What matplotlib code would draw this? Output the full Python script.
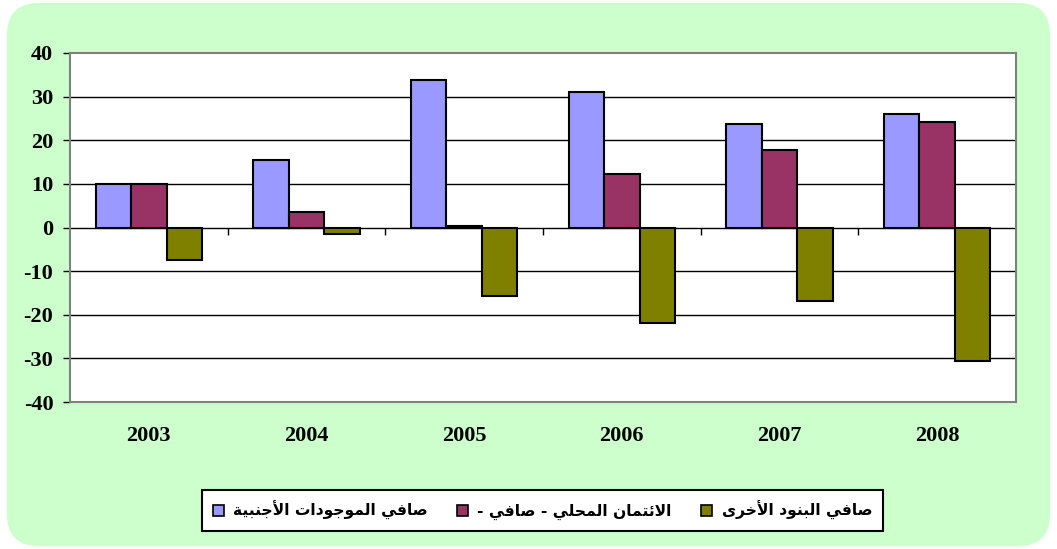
import matplotlib
matplotlib.use("Agg")
import matplotlib.pyplot as plt
from matplotlib.patches import FancyBboxPatch, Patch
import numpy as np

plt.rcParams["axes.unicode_minus"] = False

years = ["2003", "2004", "2005", "2006", "2007", "2008"]
foreign_assets = [10.0, 15.5, 33.8, 31.0, 23.7, 26.0]
domestic_credit = [10.0, 3.6, 0.3, 12.3, 17.8, 24.2]
other_items = [-7.4, -1.4, -15.6, -22.0, -16.9, -30.7]
labels = ["صافي الموجودات الأجنبية", "الائتمان المحلي - صافي -", "صافي البنود الأخرى"]
colors = ["#9999FF", "#993366", "#808000"]

# Arabic contextual forms: isolated, final, initial, medial
FORMS = {
    "ا": ("\uFE8D", "\uFE8E", None, None),
    "أ": ("\uFE83", "\uFE84", None, None),
    "ب": ("\uFE8F", "\uFE90", "\uFE91", "\uFE92"),
    "ة": ("\uFE93", "\uFE94", None, None),
    "ت": ("\uFE95", "\uFE96", "\uFE97", "\uFE98"),
    "ج": ("\uFE9D", "\uFE9E", "\uFE9F", "\uFEA0"),
    "ح": ("\uFEA1", "\uFEA2", "\uFEA3", "\uFEA4"),
    "خ": ("\uFEA5", "\uFEA6", "\uFEA7", "\uFEA8"),
    "د": ("\uFEA9", "\uFEAA", None, None),
    "ر": ("\uFEAD", "\uFEAE", None, None),
    "ص": ("\uFEB9", "\uFEBA", "\uFEBB", "\uFEBC"),
    "ف": ("\uFED1", "\uFED2", "\uFED3", "\uFED4"),
    "ل": ("\uFEDD", "\uFEDE", "\uFEDF", "\uFEE0"),
    "م": ("\uFEE1", "\uFEE2", "\uFEE3", "\uFEE4"),
    "ن": ("\uFEE5", "\uFEE6", "\uFEE7", "\uFEE8"),
    "و": ("\uFEED", "\uFEEE", None, None),
    "ى": ("\uFEEF", "\uFEF0", None, None),
    "ي": ("\uFEF1", "\uFEF2", "\uFEF3", "\uFEF4"),
    "ئ": ("\uFE89", "\uFE8A", "\uFE8B", "\uFE8C"),
}
LAM_ALEF = {"ا": ("\uFEFB", "\uFEFC"), "أ": ("\uFEF7", "\uFEF8")}


def joins_left(c):
    return c in FORMS and FORMS[c][2] is not None


def shape(text):
    out = []
    i = 0
    prev = None
    while i < len(text):
        c = text[i]
        nxt = text[i + 1] if i + 1 < len(text) else None
        if c not in FORMS:
            out.append(c)
            prev = c
            i += 1
            continue
        cp = prev is not None and joins_left(prev)
        if c == "ل" and nxt in LAM_ALEF:
            out.append(LAM_ALEF[nxt][1 if cp else 0])
            prev = nxt
            i += 2
            continue
        cn = joins_left(c) and nxt in FORMS
        f = FORMS[c]
        if cp and cn:
            g = f[3]
        elif cp:
            g = f[1]
        elif cn:
            g = f[2]
        else:
            g = f[0]
        out.append(g)
        prev = c
        i += 1
    return "".join(reversed(out))


W, H = 1057, 549
fig = plt.figure(figsize=(W / 100, H / 100), dpi=100)
fig.patch.set_facecolor("white")
bg = FancyBboxPatch((7 / W, 3 / H), 1 - 14 / W, 1 - 6 / H,
                    boxstyle="round,pad=0,rounding_size=0.03",
                    transform=fig.transFigure, facecolor="#CCFFCC",
                    edgecolor="none", zorder=-10, mutation_aspect=W / H)
fig.add_artist(bg)

ax = fig.add_axes([70 / W, 1 - 402 / H, 946 / W, 349 / H])
ax.set_facecolor("white")

x = np.arange(len(years))
bw = 0.225
series = [foreign_assets, domestic_credit, other_items]
for k, vals in enumerate(series):
    ax.bar(x + (k - 1) * bw, vals, width=bw, color=colors[k],
           edgecolor="black", linewidth=1.5, zorder=3)

ax.set_xlim(-0.5, len(years) - 0.5)
ax.set_ylim(-40, 40)
ax.set_yticks(range(-40, 41, 10))
for v in range(-30, 40, 10):
    ax.axhline(v, color="black", linewidth=1, zorder=1)

for s in ax.spines.values():
    s.set_color("#808080")
    s.set_linewidth(1.5)

ax.set_xticks(x)
ax.set_xticklabels(years)
ax.tick_params(axis="x", length=0, pad=17)
ax.tick_params(axis="y", length=5, width=1, color="black", pad=7)
for lab in ax.get_xticklabels() + ax.get_yticklabels():
    lab.set_fontfamily("Liberation Serif")
    lab.set_fontweight("bold")
    lab.set_fontsize(16)

sec = ax.secondary_xaxis(0.5)
sec.xaxis.set_ticks_position("bottom")
sec.set_xticks(np.arange(0.5, len(years) - 0.5, 1.0))
sec.set_xticklabels([])
sec.tick_params(length=5, width=1, color="black", direction="out")
for s in sec.spines.values():
    s.set_visible(False)

handles = [Patch(facecolor=colors[k], edgecolor="black", linewidth=1.2,
                 label=shape(labels[k])) for k in range(3)]
leg = fig.legend(handles=handles, loc="center", ncol=3,
                 bbox_to_anchor=(542.5 / W, 1 - 510.5 / H),
                 prop={"family": "DejaVu Sans", "weight": "bold", "size": 11.2},
                 frameon=True, fancybox=False, edgecolor="black", framealpha=1,
                 handlelength=0.7, handleheight=0.7, handletextpad=0.6,
                 columnspacing=1.9, borderpad=0.7)
leg.get_frame().set_linewidth(1.5)
leg.get_frame().set_facecolor("white")

fig.savefig("out.png", dpi=100, facecolor=fig.get_facecolor())
